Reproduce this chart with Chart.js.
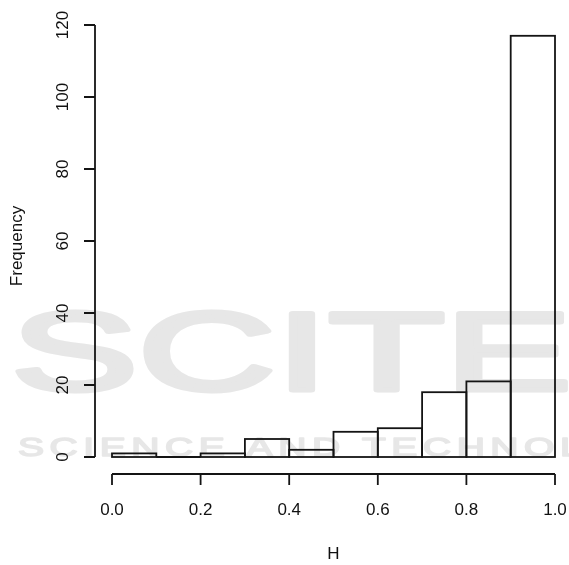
<!DOCTYPE html>
<html>
<head>
<meta charset="utf-8">
<script src="https://cdn.jsdelivr.net/npm/chart.js@4.4.1/dist/chart.umd.min.js"></script>
<style>
  html, body { margin: 0; padding: 0; background: #fff; }
  #wrap { width: 569px; height: 565px; position: relative; }
</style>
</head>
<body>
<div id="wrap"><canvas id="hist" width="569" height="565"></canvas></div>
<script>
// histogram of H (bins of width 0.1)
const binStarts = [0.0, 0.1, 0.2, 0.3, 0.4, 0.5, 0.6, 0.7, 0.8, 0.9];
const binWidth = 0.1;
const counts = [1, 0, 1, 5, 2, 7, 8, 18, 21, 117];
const xTicks = [0.0, 0.2, 0.4, 0.6, 0.8, 1.0];
const yTicks = [0, 20, 40, 60, 80, 100, 120];
const xLabel = "H";
const yLabel = "Frequency";

const FONT = "Liberation Sans, Arial, sans-serif";
const INK = "#141414";

// faint publisher watermark behind everything
const watermark = {
  id: "watermark",
  beforeDraw(chart) {
    const ctx = chart.ctx;
    ctx.save();
    ctx.fillStyle = "#e7e7e7";
    ctx.strokeStyle = "#e7e7e7";
    ctx.textBaseline = "alphabetic";
    ctx.lineJoin = "round";

    ctx.save();
    ctx.translate(11, 390);
    ctx.scale(1.7, 1);
    ctx.font = "112px " + FONT;
    ctx.lineWidth = 5;
    ctx.fillText("SCITEPRESS", 0, 0);
    ctx.strokeText("SCITEPRESS", 0, 0);
    ctx.restore();

    ctx.save();
    ctx.translate(18, 456);
    ctx.scale(1.5, 1);
    ctx.font = "26px " + FONT;
    ctx.letterSpacing = "3.7px";
    ctx.lineWidth = 1.5;
    ctx.fillText("SCIENCE AND TECHNOLOGY PUBLICATIONS", 0, 0);
    ctx.strokeText("SCIENCE AND TECHNOLOGY PUBLICATIONS", 0, 0);
    ctx.restore();

    ctx.restore();
  }
};

// R-style outlines and detached axes
const rStyle = {
  id: "rStyle",
  afterDatasetsDraw(chart) {
    const ctx = chart.ctx;
    const meta = chart.getDatasetMeta(0);
    ctx.save();
    ctx.strokeStyle = INK;
    ctx.lineWidth = 1.8;
    meta.data.forEach(el => {
      const p = el.getProps(["x", "y", "base", "width"], true);
      ctx.strokeRect(p.x - p.width / 2, p.y, p.width, p.base - p.y);
    });
    ctx.restore();
  },
  afterDraw(chart) {
    const ctx = chart.ctx;
    const xs = chart.scales.x, ys = chart.scales.y;
    const area = chart.chartArea;
    const axX = area.left - 17;   // y axis position
    const axY = area.bottom + 17; // x axis position
    const tick = 11;
    ctx.save();
    ctx.strokeStyle = INK;
    ctx.fillStyle = "#111";
    ctx.lineWidth = 1.8;

    // x axis
    const x0 = xs.getPixelForValue(xTicks[0]);
    const x1 = xs.getPixelForValue(xTicks[xTicks.length - 1]);
    ctx.beginPath();
    ctx.moveTo(x0, axY);
    ctx.lineTo(x1, axY);
    xTicks.forEach(v => {
      const px = xs.getPixelForValue(v);
      ctx.moveTo(px, axY);
      ctx.lineTo(px, axY + tick);
    });
    ctx.stroke();
    ctx.font = "17px " + FONT;
    ctx.textAlign = "center";
    ctx.textBaseline = "middle";
    xTicks.forEach(v => {
      ctx.fillText(v.toFixed(1), xs.getPixelForValue(v), axY + 36);
    });
    ctx.fillText(xLabel, (area.left + area.right) / 2, axY + 80);

    // y axis
    const y0 = ys.getPixelForValue(yTicks[0]);
    const y1 = ys.getPixelForValue(yTicks[yTicks.length - 1]);
    ctx.beginPath();
    ctx.moveTo(axX, y0);
    ctx.lineTo(axX, y1);
    yTicks.forEach(v => {
      const py = ys.getPixelForValue(v);
      ctx.moveTo(axX, py);
      ctx.lineTo(axX - tick, py);
    });
    ctx.stroke();
    yTicks.forEach(v => {
      ctx.save();
      ctx.translate(axX - 32, ys.getPixelForValue(v));
      ctx.rotate(-Math.PI / 2);
      ctx.fillText(String(v), 0, 0);
      ctx.restore();
    });
    ctx.save();
    ctx.translate(17, (area.top + area.bottom) / 2 + 5);
    ctx.rotate(-Math.PI / 2);
    ctx.fillText(yLabel, 0, 0);
    ctx.restore();

    ctx.restore();
  }
};

new Chart(document.getElementById("hist"), {
  type: "bar",
  data: {
    datasets: [{
      label: "H",
      data: binStarts.map((s, i) => ({ x: s + binWidth / 2, y: counts[i] })),
      backgroundColor: "rgba(0,0,0,0)",
      borderWidth: 0,
      barPercentage: 1.0,
      categoryPercentage: 1.0
    }]
  },
  options: {
    responsive: false,
    animation: false,
    events: [],
    layout: { padding: { left: 112, right: 14, top: 25, bottom: 108 } },
    plugins: {
      legend: { display: false },
      tooltip: { enabled: false }
    },
    scales: {
      x: { type: "linear", min: 0, max: 1, offset: false, display: false },
      y: { type: "linear", min: 0, max: 120, display: false }
    }
  },
  plugins: [watermark, rStyle]
});
</script>
</body>
</html>
